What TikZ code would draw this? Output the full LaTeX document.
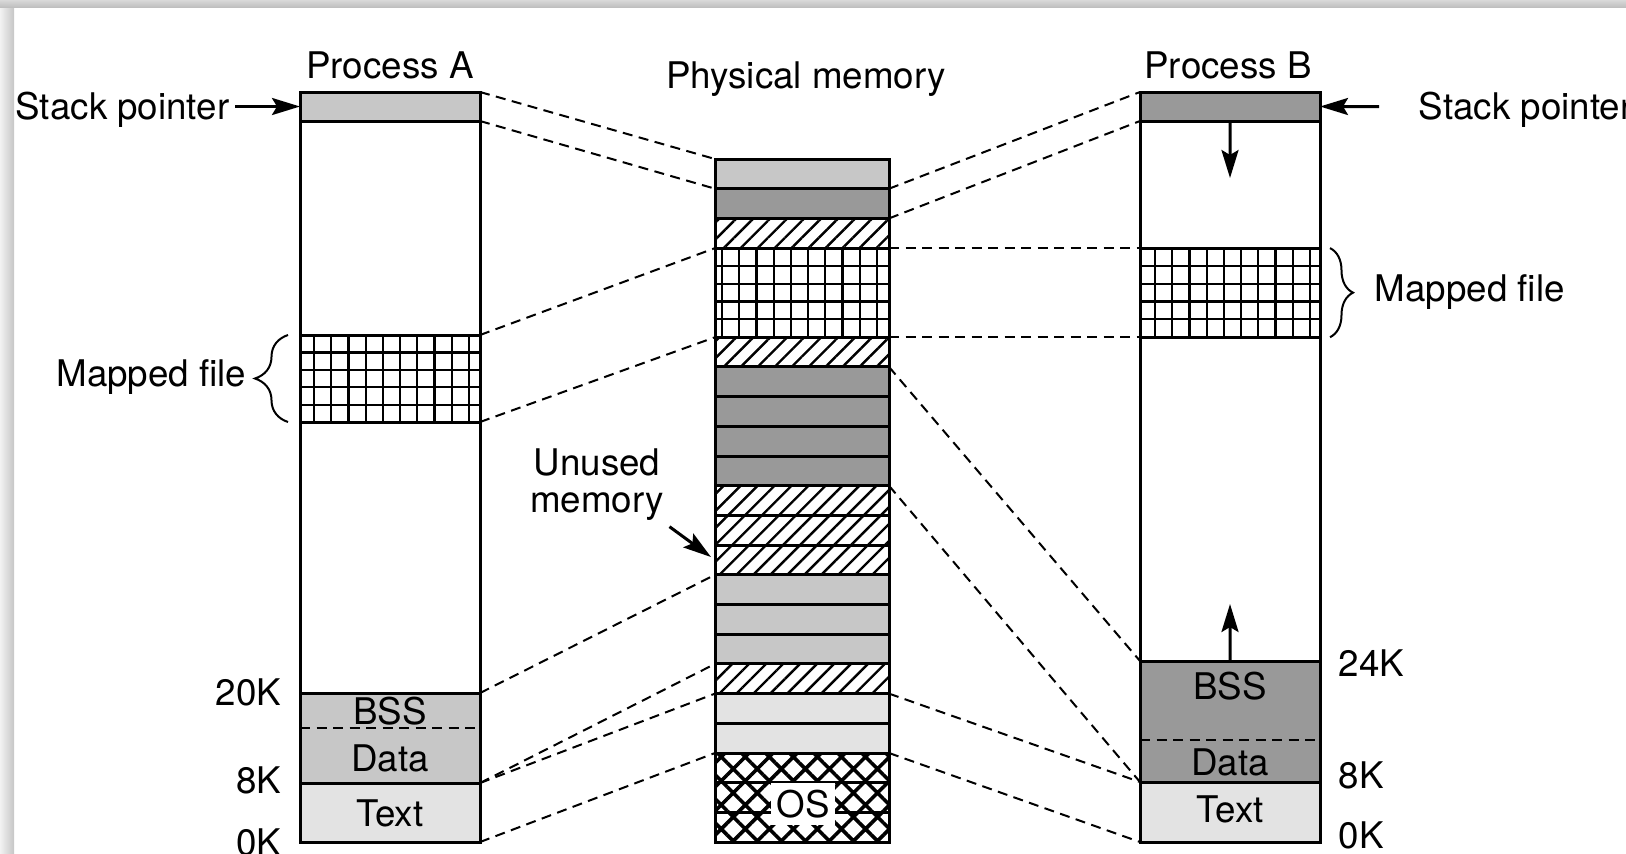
\documentclass[tikz,border=0pt]{standalone}
\usepackage{fontspec}
\setmainfont{TeX Gyre Heros}
\usetikzlibrary{arrows.meta,patterns.meta,decorations.pathreplacing,calc}

\definecolor{segA}{gray}{0.78}
\definecolor{segB}{gray}{0.60}
\definecolor{segtext}{gray}{0.89}

\tikzset{
	seg/.style={draw, rectangle, line width=0.03cm, inner sep=0pt, outer sep=0pt,
		minimum width=1.80cm, anchor=north west},
	cell/.style={seg, minimum width=1.74cm, minimum height=0.297cm},
	lightfill/.style={fill=segA},
	darkfill/.style={fill=segB},
	textfill/.style={fill=segtext},
	hatchfill/.style={pattern={Lines[angle=45,distance=0.12cm,line width=0.024cm]}},
	osfill/.style={pattern={Hatch[angle=45,distance=0.17cm,line width=0.036cm]}},
	gridline/.style={line width=0.022cm},
	mapline/.style={line width=0.02cm, dash pattern=on 0.1cm off 0.065cm},
	ptr/.style={line width=0.03cm, -{Stealth[length=0.28cm,width=0.17cm,inset=0.05cm]}},
	lbl/.style={inner sep=0.5mm, font=\fontsize{10.45}{10.8}\selectfont},
	fbrace/.style={line width=0.02cm, decorate, decoration={brace,amplitude=#1}}
}

\begin{document}
\begin{tikzpicture}
	\useasboundingbox (0,0) rectangle (16.26,8.53);
	\shade[left color=gray!10, right color=gray!45] (0,0) rectangle (0.14,8.53);
	\shade[top color=gray!30, bottom color=gray!50] (0,8.46) rectangle (16.26,8.53);

	% process A
	\node[seg, minimum height=7.50cm] (procA) at (3.00,7.61) {};
	\node[seg, lightfill, minimum height=0.29cm] (stackA) at (3.00,7.61) {};
	\node[seg, minimum height=0.87cm] (fileA) at (3.00,5.18) {};
	\node[seg, lightfill, minimum height=0.90cm] (bssA) at (3.00,1.60) {};
	\node[seg, textfill, minimum height=0.59cm] (textA) at (3.00,0.70) {};
	\draw[mapline] (3.00,1.25) -- (4.80,1.25);

	% physical memory
	\foreach \i/\s in {1/lightfill,2/darkfill,3/hatchfill,7/hatchfill,8/darkfill,9/darkfill,
		10/darkfill,11/darkfill,12/hatchfill,13/hatchfill,14/hatchfill,15/lightfill,16/lightfill,
		17/lightfill,18/hatchfill,19/textfill,20/textfill,21/osfill,22/osfill,23/osfill}
		\node[cell,\s] (p\i) at (7.15,{6.94-(\i-1)*0.297}) {};
	\node[cell, minimum height=0.891cm] (pfile) at (7.15,6.049) {};
	\node[lbl, fill=white, inner xsep=1.6pt, inner ysep=2pt, anchor=base] (os) at (8.03,0.36) {OS};

	% process B
	\node[seg, minimum height=7.50cm] (procB) at (11.40,7.61) {};
	\node[seg, darkfill, minimum height=0.29cm] (stackB) at (11.40,7.61) {};
	\node[seg, minimum height=0.891cm] (fileB) at (11.40,6.049) {};
	\node[seg, darkfill, minimum height=1.21cm] (bssB) at (11.40,1.92) {};
	\node[seg, textfill, minimum height=0.60cm] (textB) at (11.40,0.71) {};
	\draw[mapline] (11.40,1.13) -- (13.20,1.13);

	% grid of the mapped file
	\foreach \f/\o in {fileA/0.14,pfile/0.07,fileB/0.15} {
		\foreach \k in {0,...,9}
			\draw[gridline] ([xshift=\o cm+\k*0.172cm]\f.north west) -- ([xshift=\o cm+\k*0.172cm]\f.south west);
		\foreach \k in {1,...,4}
			\draw[gridline] ($(\f.south west)!\k/5!(\f.north west)$) -- ($(\f.south east)!\k/5!(\f.north east)$);
	}

	% mappings
	\draw[mapline] (stackA.north east) -- (p1.north west);
	\draw[mapline] (stackA.south east) -- (p1.south west);
	\draw[mapline] (fileA.north east) -- (pfile.north west);
	\draw[mapline] (fileA.south east) -- (pfile.south west);
	\draw[mapline] (bssA.north east) -- (p15.north west);
	\draw[mapline] (bssA.south east) -- (p17.south west);
	\draw[mapline] (textA.north east) -- (p19.north west);
	\draw[mapline] (textA.south east) -- (p20.south west);
	\draw[mapline] (p2.north east) -- (stackB.north west);
	\draw[mapline] (p2.south east) -- (stackB.south west);
	\draw[mapline] (pfile.north east) -- (fileB.north west);
	\draw[mapline] (pfile.south east) -- (fileB.south west);
	\draw[mapline] (p8.north east) -- (bssB.north west);
	\draw[mapline] (p11.south east) -- (bssB.south west);
	\draw[mapline] (p19.north east) -- (textB.north west);
	\draw[mapline] (p20.south east) -- (textB.south west);

	% titles
	\node[lbl, anchor=base] (titleA) at (3.90,7.75) {Process A};
	\node[lbl, anchor=base] (titleP) at (8.06,7.65) {Physical memory};
	\node[lbl, anchor=base] (titleB) at (12.28,7.75) {Process B};

	% stack pointers
	\node[lbl, anchor=base east] (spA) at (2.35,7.34) {Stack pointer};
	\draw[ptr] (spA.east |- stackA.west) -- (stackA.west);
	\node[lbl, anchor=base west] (spB) at (14.13,7.34) {Stack pointer};
	\coordinate (tailB) at (13.79,7.465);
	\draw[ptr] (tailB) -- (stackB.east);
	\coordinate (downB) at (12.30,6.75);
	\draw[ptr] (stackB.south) -- (downB);
	\coordinate (upB) at (12.30,2.49);
	\draw[ptr] (bssB.north) -- (upB);

	% mapped files
	\draw[fbrace=0.33cm] ([xshift=-0.12cm]fileA.south west) -- ([xshift=-0.12cm]fileA.north west);
	\node[lbl, anchor=base east] (mfA) at (2.52,4.67) {Mapped file};
	\draw[fbrace=0.23cm] ([xshift=0.10cm]fileB.north east) -- ([xshift=0.10cm]fileB.south east);
	\node[lbl, anchor=base west] (mfB) at (13.69,5.52) {Mapped file};

	% unused memory
	\node[lbl, align=center] (unused) at (5.97,3.684) {Unused\\memory};
	\draw[ptr, shorten >=0.05cm] (unused.south east) -- (p14.west);

	% segment labels
	\node[lbl, anchor=base] (bssAl) at (3.90,1.29) {BSS};
	\node[lbl, anchor=base] (dataAl) at (3.90,0.815) {Data};
	\node[lbl, anchor=base] (textAl) at (3.90,0.265) {Text};
	\node[lbl, anchor=base] (bssBl) at (12.30,1.54) {BSS};
	\node[lbl, anchor=base] (dataBl) at (12.30,0.78) {Data};
	\node[lbl, anchor=base] (textBl) at (12.30,0.31) {Text};

	% addresses
	\node[lbl, anchor=base east] (k20) at (2.87,1.48) {20K};
	\node[lbl, anchor=base east] (k8A) at (2.87,0.60) {8K};
	\node[lbl, anchor=base east] (k0A) at (2.87,-0.025) {0K};
	\node[lbl, anchor=base west] (k24) at (13.33,1.77) {24K};
	\node[lbl, anchor=base west] (k8B) at (13.33,0.65) {8K};
	\node[lbl, anchor=base west] (k0B) at (13.33,0.05) {0K};
\end{tikzpicture}
\end{document}
